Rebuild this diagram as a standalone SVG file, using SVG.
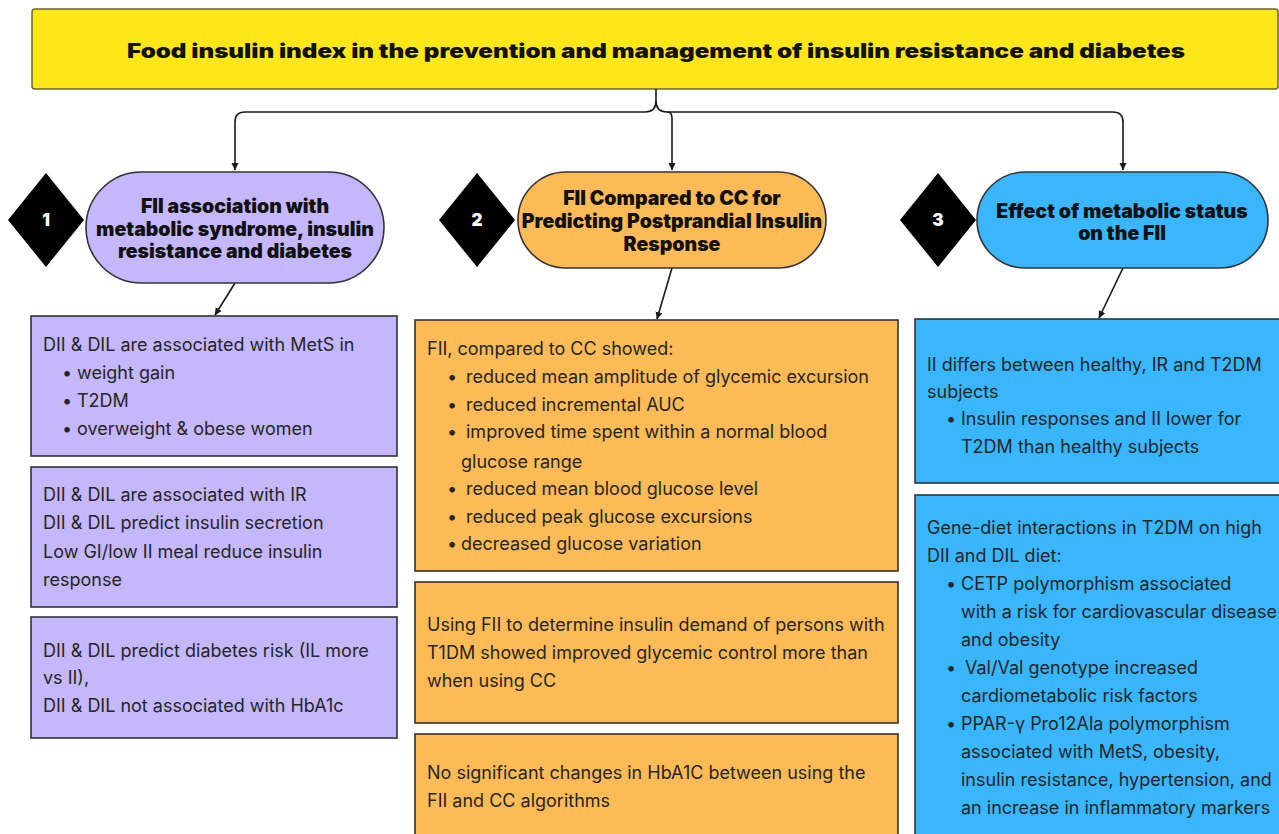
<svg xmlns="http://www.w3.org/2000/svg" width="1279" height="834" viewBox="0 0 1279 834">
<defs>
<marker id="ah" markerWidth="8" markerHeight="8" refX="7" refY="4" orient="auto" markerUnits="userSpaceOnUse">
<path d="M0,0.5 L7.5,4 L0,7.5 Z" fill="#1a1a1a"/>
</marker>
<style>
.box{stroke:#333;stroke-width:1.6}
.p{fill:#c4b7fc}.o{fill:#fdbb58}.b{fill:#38b6ff}
.t{font-family:Inter,"Liberation Sans",sans-serif;font-size:18px;fill:#262626}
.h{font-family:Inter,"Liberation Sans",sans-serif;font-weight:900;font-size:19.5px;fill:#111;text-anchor:middle}
.n{font-family:Inter,"Liberation Sans",sans-serif;font-weight:900;font-size:17px;fill:#fff;text-anchor:middle}
.c{fill:none;stroke:#1a1a1a;stroke-width:1.6}
</style>
</defs>
<rect width="1279" height="834" fill="#fff"/>
<g id="title">
<rect x="32" y="9" width="1246" height="80" rx="3" fill="#fee716" stroke="#6b6630" stroke-width="1.5"/>
<text x="656" y="58" class="h" font-size="23" textLength="1058" lengthAdjust="spacingAndGlyphs">Food insulin index in the prevention and management of insulin resistance and diabetes</text>
</g>
<g id="connectors">
<path class="c" d="M656,89 L656,101 Q656,112 645,112 L245,112 Q235,112 235,122 L235,170" marker-end="url(#ah)"/>
<path class="c" d="M656,101 Q656,112 667,112 L1113,112 Q1123,112 1123,122 L1123,170" marker-end="url(#ah)"/>
<path class="c" d="M667,112 Q672,112 672,118 L672,170" marker-end="url(#ah)"/>
<path class="c" d="M235,283 L215,315" marker-end="url(#ah)"/>
<path class="c" d="M672,268 L657,319" marker-end="url(#ah)"/>
<path class="c" d="M1123,268 L1099,318" marker-end="url(#ah)"/>
</g>
<g id="diamond1"><path d="M46,173 L84,220 L46,267 L8,220 Z" fill="#000"/><text x="46" y="226" class="n">1</text></g>
<g id="diamond2"><path d="M477,173 L515,220 L477,267 L439,220 Z" fill="#000"/><text x="477" y="226" class="n">2</text></g>
<g id="diamond3"><path d="M938,173 L976,220 L938,267 L900,220 Z" fill="#000"/><text x="938" y="226" class="n">3</text></g>
<g id="node1">
<rect x="86" y="172" width="298" height="111" rx="55.5" class="box p"/>
<text class="h"><tspan x="235" y="213">FII association with</tspan><tspan x="235" y="236">metabolic syndrome, insulin</tspan><tspan x="235" y="258">resistance and diabetes</tspan></text>
</g>
<g id="node2">
<rect x="518" y="172" width="308" height="96" rx="48" class="box o"/>
<text class="h"><tspan x="672" y="205">FII Compared to CC for</tspan><tspan x="672" y="228">Predicting Postprandial Insulin</tspan><tspan x="672" y="251">Response</tspan></text>
</g>
<g id="node3">
<rect x="977" y="172" width="291" height="96" rx="48" class="box b"/>
<text class="h"><tspan x="1122" y="218">Effect of metabolic status</tspan><tspan x="1122" y="240">on the FII</tspan></text>
</g>
<g id="box1a">
<rect x="31" y="316" width="366" height="140" class="box p"/>
<text class="t"><tspan x="43" y="351">DII &amp; DIL are associated with MetS in</tspan><tspan x="62" y="379">•</tspan><tspan x="77" y="379">weight gain</tspan><tspan x="62" y="407">•</tspan><tspan x="77" y="407">T2DM</tspan><tspan x="62" y="435">•</tspan><tspan x="77" y="435">overweight &amp; obese women</tspan></text>
</g>
<g id="box1b">
<rect x="31" y="467" width="366" height="140" class="box p"/>
<text class="t"><tspan x="43" y="501">DII &amp; DIL are associated with IR</tspan><tspan x="43" y="529">DII &amp; DIL predict insulin secretion</tspan><tspan x="43" y="558">Low GI/low II meal reduce insulin</tspan><tspan x="43" y="586">response</tspan></text>
</g>
<g id="box1c">
<rect x="31" y="617" width="366" height="121" class="box p"/>
<text class="t"><tspan x="43" y="657">DII &amp; DIL predict diabetes risk (IL more</tspan><tspan x="43" y="684">vs II),</tspan><tspan x="43" y="712">DII &amp; DIL not associated with HbA1c</tspan></text>
</g>
<g id="box2a">
<rect x="415" y="320" width="483" height="251" class="box o"/>
<text class="t"><tspan x="427" y="355">FII, compared to CC showed:</tspan><tspan x="447" y="383">•</tspan><tspan x="466" y="383">reduced mean amplitude of glycemic excursion</tspan><tspan x="447" y="411">•</tspan><tspan x="466" y="411">reduced incremental AUC</tspan><tspan x="447" y="438">•</tspan><tspan x="466" y="438">improved time spent within a normal blood</tspan><tspan x="461" y="468">glucose range</tspan><tspan x="447" y="495">•</tspan><tspan x="466" y="495">reduced mean blood glucose level</tspan><tspan x="447" y="523">•</tspan><tspan x="466" y="523">reduced peak glucose excursions</tspan><tspan x="447" y="550">•</tspan><tspan x="461" y="550">decreased glucose variation</tspan></text>
</g>
<g id="box2b">
<rect x="415" y="582" width="483" height="141" class="box o"/>
<text class="t"><tspan x="427" y="631">Using FII to determine insulin demand of persons with</tspan><tspan x="427" y="659">T1DM showed improved glycemic control more than</tspan><tspan x="427" y="687">when using CC</tspan></text>
</g>
<g id="box2c">
<rect x="415" y="734" width="483" height="115" class="box o"/>
<text class="t"><tspan x="427" y="779">No significant changes in HbA1C between using the</tspan><tspan x="427" y="807">FII and CC algorithms</tspan></text>
</g>
<g id="box3a">
<rect x="915" y="319" width="372" height="164" class="box b"/>
<text class="t"><tspan x="927" y="371">II differs between healthy, IR and T2DM</tspan><tspan x="927" y="398">subjects</tspan><tspan x="946" y="425">•</tspan><tspan x="961" y="425">Insulin responses and II lower for</tspan><tspan x="961" y="453">T2DM than healthy subjects</tspan></text>
</g>
<g id="box3b">
<rect x="915" y="495" width="372" height="350" class="box b"/>
<text class="t"><tspan x="927" y="534">Gene-diet interactions in T2DM on high</tspan><tspan x="927" y="562">DII and DIL diet:</tspan><tspan x="946" y="590">•</tspan><tspan x="961" y="590">CETP polymorphism associated</tspan><tspan x="961" y="618">with a risk for cardiovascular disease</tspan><tspan x="961" y="646">and obesity</tspan><tspan x="946" y="674">•</tspan><tspan x="965" y="674">Val/Val genotype increased</tspan><tspan x="961" y="702">cardiometabolic risk factors</tspan><tspan x="946" y="730">•</tspan><tspan x="961" y="730">PPAR-γ Pro12Ala polymorphism</tspan><tspan x="961" y="758">associated with MetS, obesity,</tspan><tspan x="961" y="786">insulin resistance, hypertension, and</tspan><tspan x="961" y="814">an increase in inflammatory markers</tspan></text>
</g>
</svg>
